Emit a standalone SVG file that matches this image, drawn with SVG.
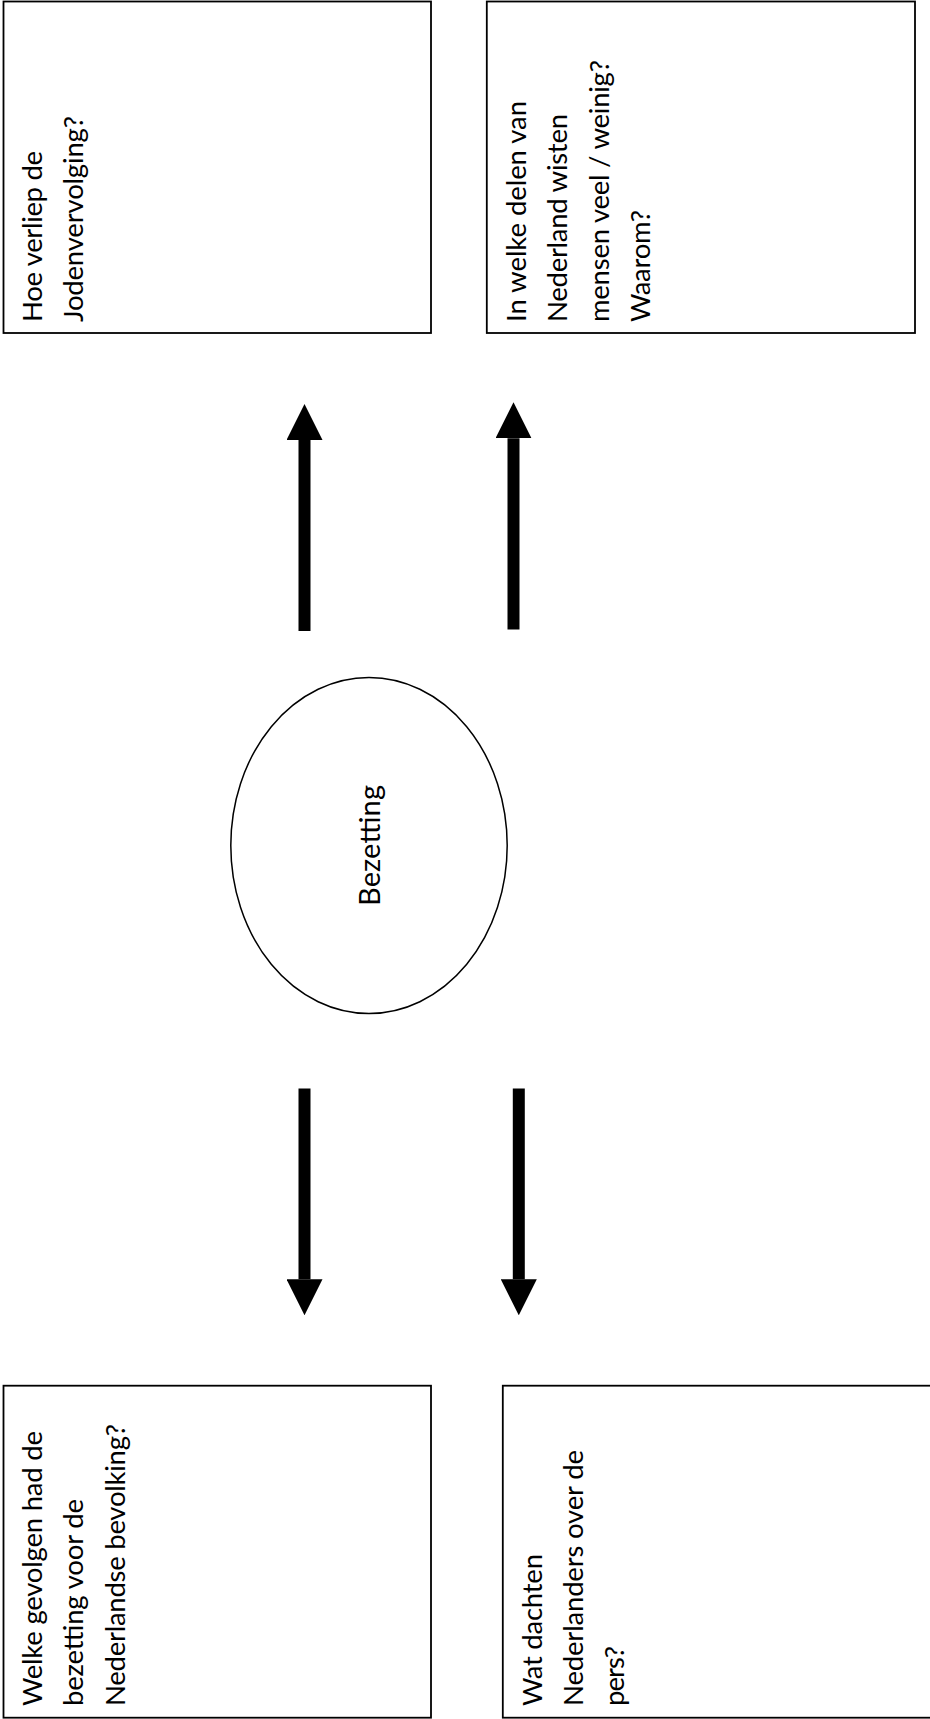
<svg xmlns="http://www.w3.org/2000/svg" width="930" height="1719" viewBox="0 0 930 1719">
<style>
.box{fill:#fff;stroke:#000;stroke-width:1.8}
.oval{fill:#fff;stroke:#000;stroke-width:1.5}
.t{font-family:Lato,"Liberation Sans",sans-serif;font-size:27.5px;fill:#000}
.tl{font-family:Lato,"Liberation Sans",sans-serif;font-size:29px;fill:#000}
.conn{stroke:#000;stroke-width:12;fill:none}
</style>
<defs>
<marker id="head" markerUnits="userSpaceOnUse" viewBox="0 0 36 36" refX="0" refY="18" markerWidth="36" markerHeight="36" orient="auto">
<path d="M0,0 L36,18 L0,36 Z" fill="#000"/>
</marker>
</defs>
<rect width="930" height="1719" fill="#fff"/>
<g id="connectors">
<line class="conn" x1="304.5" y1="631" x2="304.5" y2="440" marker-end="url(#head)"/>
<line class="conn" x1="513.5" y1="629.6" x2="513.5" y2="438.3" marker-end="url(#head)"/>
<line class="conn" x1="304.5" y1="1088.6" x2="304.5" y2="1279.3" marker-end="url(#head)"/>
<line class="conn" x1="518.8" y1="1088.6" x2="518.8" y2="1279.3" marker-end="url(#head)"/>
</g>
<g id="node-jodenvervolging">
<rect class="box" x="3.5" y="1.5" width="427.5" height="331.5"/>
<text class="t" transform="translate(41.7,322) rotate(-90)" textLength="171">Hoe verliep de</text>
<text class="t" transform="translate(83.3,322) rotate(-90)" textLength="206">Jodenvervolging?</text>
</g>
<g id="node-delen">
<rect class="box" x="486.8" y="1.5" width="428.2" height="331.5"/>
<text class="t" transform="translate(526,322) rotate(-90)" textLength="221">In welke delen van</text>
<text class="t" transform="translate(567.3,322) rotate(-90)" textLength="208">Nederland wisten</text>
<text class="t" transform="translate(608.6,322) rotate(-90)" textLength="262">mensen veel / weinig?</text>
<text class="t" transform="translate(650,322) rotate(-90)" textLength="112">Waarom?</text>
</g>
<g id="node-bezetting">
<ellipse class="oval" cx="369" cy="845.5" rx="138.2" ry="168"/>
<text class="tl" transform="translate(379.7,845.5) rotate(-90)" text-anchor="middle" textLength="121">Bezetting</text>
</g>
<g id="node-gevolgen">
<rect class="box" x="3.5" y="1385.7" width="427.5" height="332"/>
<text class="t" transform="translate(41.7,1706) rotate(-90)" textLength="275">Welke gevolgen had de</text>
<text class="t" transform="translate(83.3,1706) rotate(-90)" textLength="207">bezetting voor de</text>
<text class="t" transform="translate(124.6,1706) rotate(-90)" textLength="282">Nederlandse bevolking?</text>
</g>
<g id="node-pers">
<rect class="box" x="502.8" y="1385.7" width="428.5" height="332"/>
<text class="t" transform="translate(541.7,1706) rotate(-90)" textLength="152">Wat dachten</text>
<text class="t" transform="translate(583,1706) rotate(-90)" textLength="256">Nederlanders over de</text>
<text class="t" transform="translate(624.3,1706) rotate(-90)" textLength="60">pers?</text>
</g>
</svg>
